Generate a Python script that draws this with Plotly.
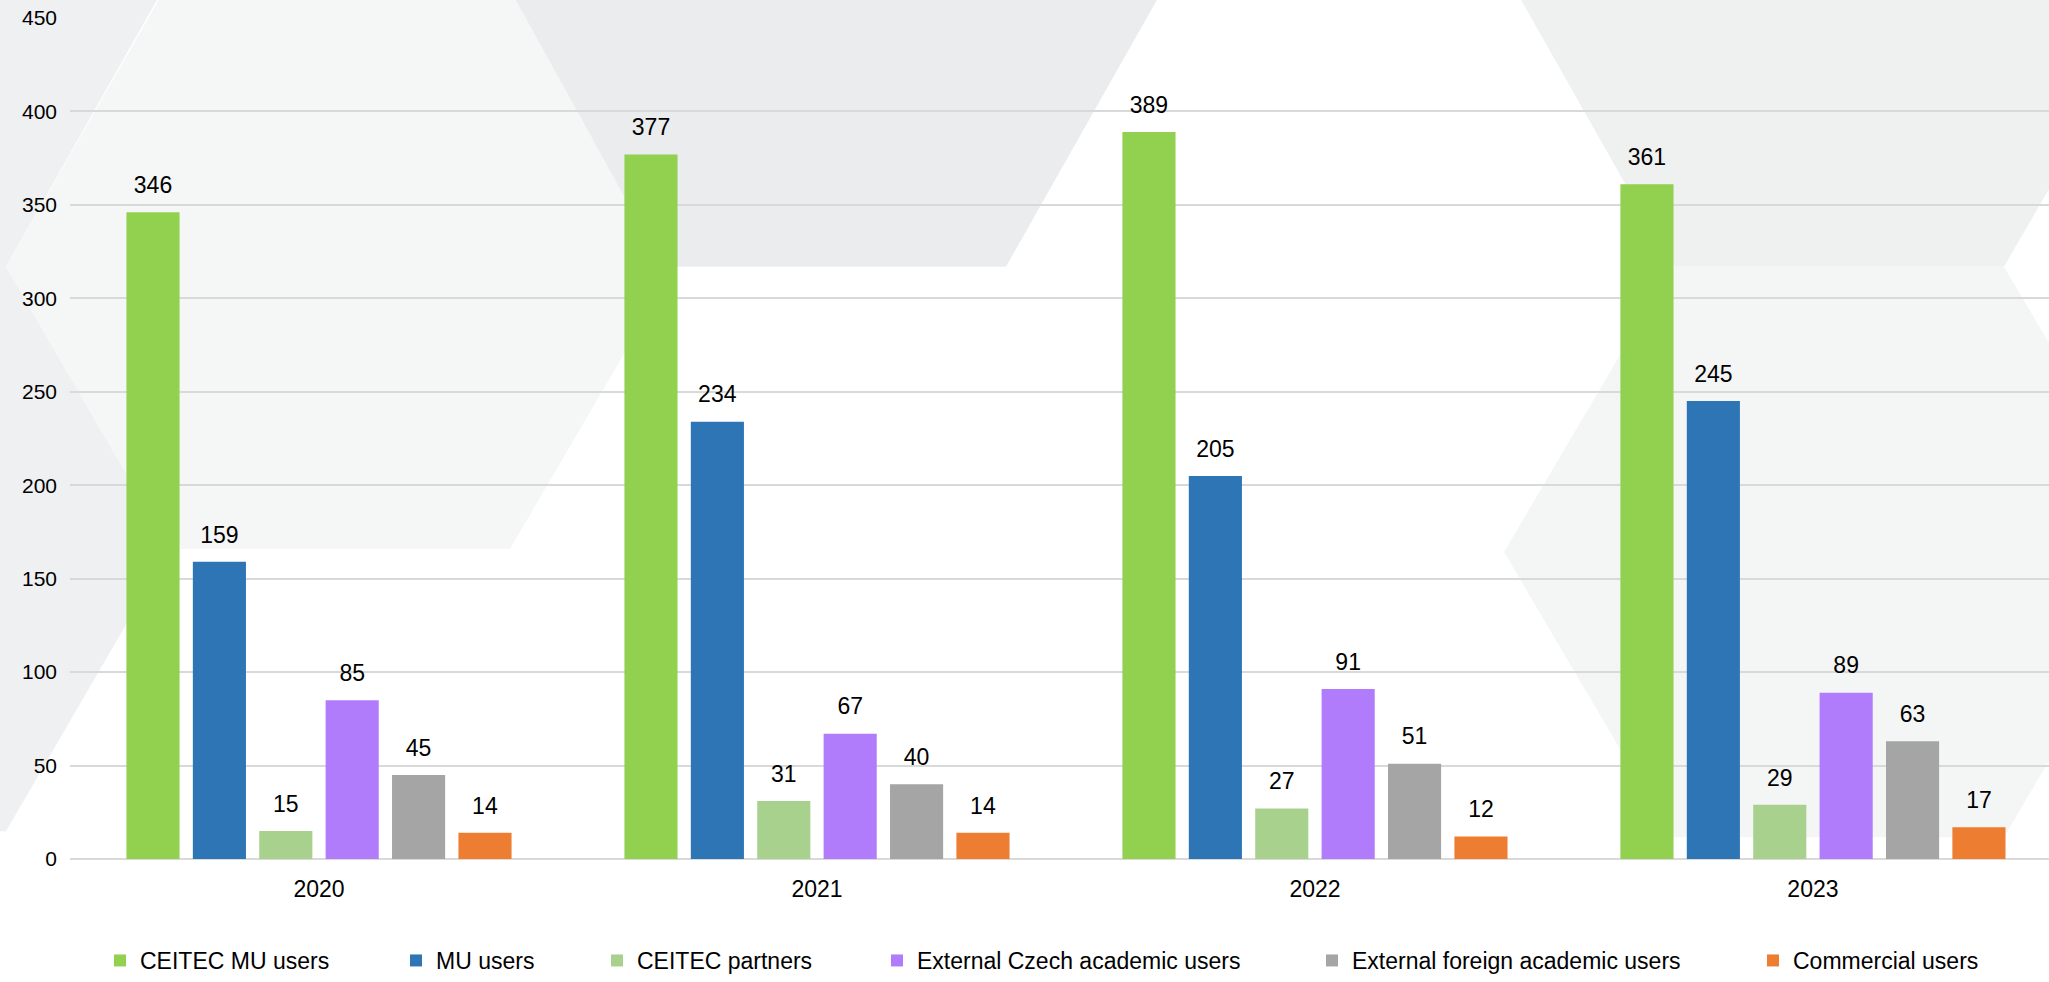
import plotly.graph_objects as go

# ---------------- data ----------------
years = ["2020", "2021", "2022", "2023"]
series_names = [
    "CEITEC MU users",
    "MU users",
    "CEITEC partners",
    "External Czech academic users",
    "External foreign academic users",
    "Commercial users",
]
ceitec_mu_users = [346, 377, 389, 361]
mu_users = [159, 234, 205, 245]
ceitec_partners = [15, 31, 27, 29]
external_czech_academic = [85, 67, 91, 89]
external_foreign_academic = [45, 40, 51, 63]
commercial_users = [14, 14, 12, 17]
y_ticks = [0, 50, 100, 150, 200, 250, 300, 350, 400, 450]

series_values = [
    ceitec_mu_users,
    mu_users,
    ceitec_partners,
    external_czech_academic,
    external_foreign_academic,
    commercial_users,
]

# ---------------- style ----------------
colors = ["#92D050", "#2E75B6", "#A9D18E", "#B07CFC", "#A5A5A5", "#ED7D31"]
FONT = "Liberation Sans, Arial, sans-serif"
W, H = 2049, 982
ML, MR, MT, MB = 70, 0, 18, 115
PW = W - ML - MR
PH = H - MT - MB
PY0 = H - MB


def px2paper(x, y):
    return (x - ML) / PW, (PY0 - y) / PH


# decorative hexagon background (pixel positions in the figure)
bg_polys = [
    ("#EFF0F2", [(-5, -20), (168, -20), (6, 269), (170, 554), (6, 839), (-5, 839)]),
    ("#F5F6F6", [(6, 269), (170, -20), (510, -20), (675, 269), (510, 554), (170, 554)]),
    ("#EBECEE", [(505, -20), (663, 269), (1006, 269), (1168, -20)]),
    ("#EFF0F0", [(1510, -20), (1672, 269), (2004, 269), (2170, -20)]),
    ("#F4F5F5", [(1504, 557), (1672, 269), (2004, 269), (2172, 557), (2004, 845), (1672, 845)]),
]

shapes = []
for col, pts in bg_polys:
    path = ""
    for i, (x, y) in enumerate(pts):
        u, v = px2paper(x, y)
        path += ("M" if i == 0 else "L") + f"{u:.5f},{v:.5f}"
    path += "Z"
    shapes.append(dict(type="path", path=path, xref="paper", yref="paper",
                       fillcolor=col, line=dict(width=0), layer="below"))

# legend positions (pixel x of each legend box)
legend_px = [100, 396, 597, 877, 1312, 1753]
legend_y = px2paper(0, 970)[1]

fig = go.Figure()
for i, (name, vals) in enumerate(zip(series_names, series_values)):
    lg = "legend" if i == 0 else f"legend{i + 1}"
    fig.add_trace(go.Bar(
        x=years, y=vals, name=name,
        marker=dict(color=colors[i], line=dict(width=0)),
        text=vals,
        texttemplate="<span style='font-size:23px'>%{text}</span><br> ",
        textposition="outside",
        textfont=dict(size=11, color="#000000", family=FONT),
        constraintext="none",
        cliponaxis=False,
        legend=lg,
    ))

layout_legends = {}
for i, xp in enumerate(legend_px):
    key = "legend" if i == 0 else f"legend{i + 1}"
    layout_legends[key] = dict(
        x=px2paper(xp, 0)[0], y=legend_y, xanchor="left", yanchor="middle",
        orientation="h", bgcolor="rgba(0,0,0,0)", borderwidth=0,
        font=dict(size=23, color="#000000", family=FONT),
        itemclick=False, itemdoubleclick=False,
    )

fig.update_layout(
    width=W, height=H,
    margin=dict(l=ML, r=MR, t=MT, b=MB, pad=0),
    paper_bgcolor="#FFFFFF",
    plot_bgcolor="rgba(0,0,0,0)",
    font=dict(family=FONT, color="#000000"),
    barmode="group",
    bargap=0.2,
    bargroupgap=0.2,
    showlegend=True,
    shapes=shapes,
    **layout_legends,
)

fig.update_xaxes(
    type="category",
    range=[-0.5, 3.474],
    showgrid=False, showline=False, zeroline=False,
    ticks="",
    tickfont=dict(size=23, color="#000000", family=FONT),
    ticklabelstandoff=14,
    fixedrange=True,
)
fig.update_yaxes(
    range=[0, 450],
    tickvals=y_ticks,
    showgrid=True, gridcolor="#D9D9D9", gridwidth=1.5,
    zeroline=True, zerolinecolor="#D9D9D9", zerolinewidth=2,
    showline=False, ticks="",
    tickfont=dict(size=21, color="#000000", family=FONT),
    ticklabelstandoff=12,
    fixedrange=True,
)

fig.write_html(
    "out.html",
    config=dict(displayModeBar=False),
    post_script="document.body.style.margin='0';document.body.style.overflow='hidden';",
)
